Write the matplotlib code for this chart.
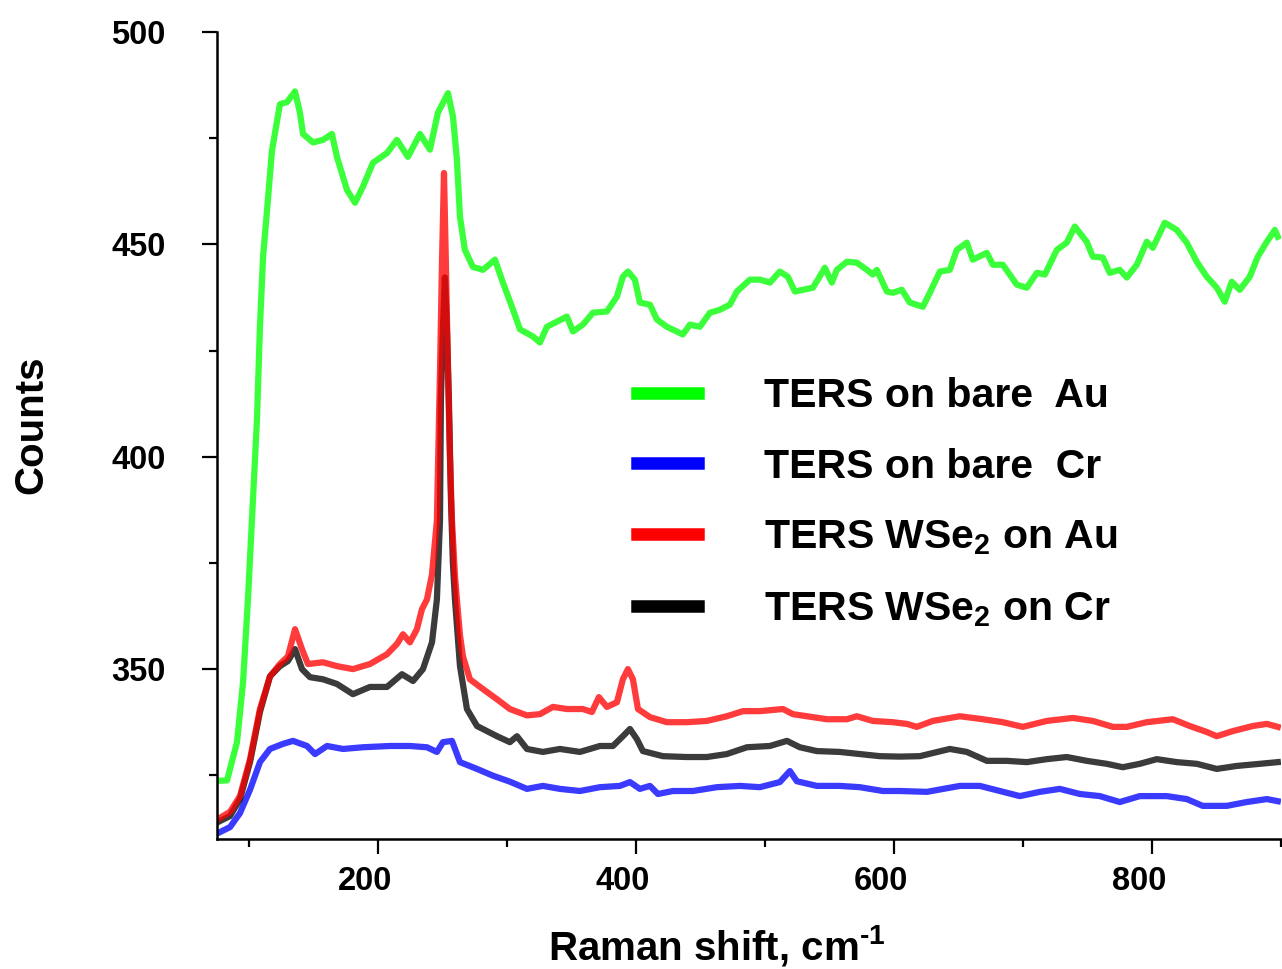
import matplotlib
matplotlib.use('Agg')
import matplotlib.pyplot as plt
import matplotlib.transforms as mtransforms
from matplotlib.ticker import MultipleLocator

plt.rcParams['font.family'] = ['Liberation Sans', 'DejaVu Sans']
plt.rcParams['font.weight'] = 'bold'
plt.rcParams['mathtext.fontset'] = 'custom'
plt.rcParams['mathtext.rm'] = 'Liberation Sans:bold'
plt.rcParams['mathtext.it'] = 'Liberation Sans:bold'
plt.rcParams['mathtext.bf'] = 'Liberation Sans:bold'
plt.rcParams['mathtext.default'] = 'rm'

# TERS on bare Au
au_x = [75.8, 82.8, 90.5, 95.2, 99.0, 102.9, 106.0, 108.3, 110.7, 113.8, 117.6, 123.8,
        129.3, 135.5, 139.3, 141.7, 149.4, 157.2, 164.1, 168.0, 175.8, 182.0, 188.2, 195.9,
        206.8, 214.5, 223.0, 232.4, 240.1, 246.3, 254.1, 258.0, 261.0, 263.4, 267.2, 273.4,
        281.2, 290.5, 296.7, 303.7, 309.9, 320.0, 325.4, 330.8, 338.6, 346.3, 351.0, 358.7,
        366.5, 377.3, 385.1, 389.7, 393.6, 399.0, 402.9, 410.7, 416.1, 423.8, 436.2, 441.7,
        449.4, 457.2, 464.9, 472.7, 478.1, 488.2, 495.9, 503.7, 511.4, 517.6, 523.1, 529.3,
        537.0, 540.9, 546.3, 551.7, 555.6, 563.4, 571.1, 578.9, 583.5, 586.6, 594.4, 599.0,
        606.0, 612.2, 622.3, 627.7, 635.5, 643.2, 648.6, 656.4, 661.0, 671.9, 676.6, 684.3,
        695.2, 702.9, 710.7, 716.9, 726.2, 733.9, 740.1, 749.4, 754.1, 761.8, 767.2, 775.0,
        780.4, 788.2, 795.9, 800.6, 809.9, 819.2, 826.9, 834.7, 842.4, 850.2, 856.4, 861.8,
        868.0, 875.8, 882.0, 889.0, 895.2, 897.5]
au_y = [323.7, 323.8, 332.8, 346.9, 366.4, 390.0, 408.8, 430.6, 447.0, 458.0, 472.0, 483.0,
        483.5, 486.0, 481.0, 476.0, 474.0, 474.6, 476.0, 470.6, 462.8, 459.8, 463.6, 469.2,
        471.5, 474.6, 470.6, 476.0, 472.3, 481.0, 485.6, 480.0, 470.0, 456.5, 448.7, 444.7,
        444.0, 446.4, 441.0, 435.3, 430.0, 428.3, 426.9, 430.6, 431.8, 433.0, 429.5, 431.1,
        433.9, 434.2, 437.7, 442.4, 443.6, 441.7, 436.3, 435.8, 432.3, 430.6, 428.8, 431.1,
        430.6, 433.9, 434.6, 435.8, 438.9, 441.7, 441.7, 441.0, 443.6, 442.4, 438.9, 439.3,
        439.8, 441.7, 444.5, 441.0, 444.0, 445.9, 445.7, 444.0, 442.9, 444.0, 438.9, 438.6,
        439.3, 436.3, 435.3, 438.6, 443.6, 444.0, 448.7, 450.4, 446.4, 448.0, 445.2, 445.2,
        440.5, 439.8, 443.3, 442.9, 448.7, 450.4, 454.2, 450.6, 447.1, 446.9, 443.3, 444.0,
        442.2, 445.2, 450.6, 449.2, 455.1, 453.4, 450.4, 445.9, 442.4, 439.8, 436.5, 441.2,
        439.3, 442.4, 447.1, 450.6, 453.4, 451.8]

# TERS on bare Cr
cr_x = [75.8, 85.1, 92.8, 100.6, 108.3, 116.1, 126.2, 133.9, 144.8, 151.0, 160.3, 172.7,
        188.2, 209.1, 224.6, 237.8, 245.5, 250.2, 257.2, 263.4, 276.6, 289.0, 302.1, 315.3,
        327.7, 340.9, 356.4, 371.9, 387.4, 395.2, 402.9, 410.7, 416.9, 428.5, 444.0, 462.6,
        480.4, 495.9, 511.4, 519.2, 524.6, 540.1, 557.9, 573.4, 591.3, 604.5, 625.4, 651.0,
        666.5, 682.0, 697.5, 713.0, 728.5, 744.0, 759.5, 775.0, 790.5, 811.4, 826.9, 839.3,
        857.9, 873.4, 889.0, 897.5]
cr_y = [311.4, 312.8, 316.1, 321.6, 328.1, 331.2, 332.4, 333.1, 331.9, 330.0, 331.9, 331.2,
        331.6, 331.9, 331.9, 331.6, 330.5, 332.8, 333.1, 328.1, 326.5, 324.9, 323.5, 321.8,
        322.5, 321.8, 321.3, 322.2, 322.5, 323.4, 321.8, 322.5, 320.6, 321.3, 321.3, 322.2,
        322.5, 322.2, 323.4, 326.0, 323.6, 322.5, 322.5, 322.2, 321.3, 321.3, 321.1, 322.5,
        322.5, 321.3, 320.1, 321.1, 321.8, 320.6, 320.1, 318.7, 320.1, 320.1, 319.4, 317.8,
        317.8, 318.7, 319.4, 318.9]

# TERS WSe2 on Au
wse2_au_x = [75.8, 85.1, 92.8, 100.6, 108.3, 116.1, 123.8, 130.0, 135.5, 140.9, 145.5, 157.2,
             168.0, 180.4, 193.6, 206.8, 214.5, 219.2, 224.6, 230.0, 233.9, 237.8, 241.7, 245.5,
             247.9, 249.4, 251.0, 252.5, 254.1, 255.6, 257.2, 259.5, 261.0, 263.4, 265.7, 271.1,
             281.2, 292.1, 302.1, 315.3, 325.4, 335.5, 346.3, 358.7, 365.7, 371.1, 377.3, 385.1,
             389.7, 393.6, 397.5, 401.4, 410.7, 423.8, 439.3, 454.8, 470.3, 482.8, 495.9, 513.8,
             521.5, 532.4, 547.9, 563.4, 571.1, 583.5, 599.0, 609.9, 617.6, 630.0, 651.0, 668.8,
             684.3, 699.8, 718.4, 738.6, 754.1, 769.6, 780.4, 795.9, 816.1, 829.3, 842.4, 850.2,
             862.6, 878.1, 889.0, 897.5]
wse2_au_y = [314.7, 316.4, 320.1, 328.8, 340.6, 348.3, 351.2, 353.0, 359.4, 354.7, 351.2, 351.6,
             350.7, 350.0, 351.2, 353.5, 355.9, 358.2, 356.3, 359.4, 364.1, 366.4, 372.3, 385.0,
             420.0, 445.0, 466.8, 445.0, 420.0, 400.0, 385.0, 372.0, 366.4, 358.0, 353.0, 347.6,
             345.3, 342.9, 340.6, 339.1, 339.4, 341.1, 340.6, 340.6, 339.9, 343.4, 341.1, 342.2,
             347.6, 350.0, 347.6, 340.6, 338.7, 337.5, 337.5, 337.8, 338.9, 340.1, 340.1, 340.6,
             339.4, 338.9, 338.2, 338.2, 338.9, 337.8, 337.5, 337.1, 336.4, 337.8, 338.9, 338.2,
             337.5, 336.4, 337.8, 338.5, 337.8, 336.4, 336.4, 337.5, 338.2, 336.6, 335.2, 334.2,
             335.4, 336.6, 337.1, 336.4]

# TERS WSe2 on Cr
wse2_cr_x = [75.8, 85.1, 92.8, 100.6, 108.3, 116.1, 123.8, 130.0, 135.5, 140.9, 147.1, 157.2,
             168.0, 180.4, 193.6, 206.8, 218.4, 227.0, 234.7, 241.7, 245.5, 247.9, 248.6, 250.2,
             251.7, 253.3, 254.8, 256.4, 257.9, 259.5, 263.4, 268.8, 276.6, 292.1, 302.1, 307.6,
             315.3, 327.7, 340.9, 356.4, 371.9, 382.0, 389.7, 395.2, 400.6, 405.2, 420.7, 439.3,
             454.8, 470.3, 485.9, 503.7, 516.9, 526.9, 540.1, 557.9, 573.4, 589.0, 604.5, 620.0,
             643.2, 656.4, 671.9, 687.4, 702.9, 718.4, 733.9, 749.4, 764.9, 777.3, 790.5, 803.7,
             819.2, 834.7, 850.2, 865.7, 883.5, 897.5]
wse2_cr_y = [314.0, 315.4, 319.4, 328.1, 339.9, 348.3, 350.7, 351.9, 354.7, 350.0, 348.1, 347.6,
             346.5, 344.1, 345.8, 345.8, 348.8, 347.2, 350.0, 356.3, 366.4, 385.0, 413.5, 430.0,
             442.2, 430.0, 413.5, 390.0, 375.0, 366.4, 350.7, 340.6, 336.6, 334.2, 332.8, 334.2,
             331.2, 330.5, 331.2, 330.5, 331.9, 331.9, 334.2, 335.9, 333.5, 330.7, 329.5, 329.3,
             329.3, 330.0, 331.6, 331.9, 333.1, 331.6, 330.7, 330.5, 330.0, 329.5, 329.4, 329.5,
             331.2, 330.5, 328.4, 328.4, 328.1, 328.8, 329.3, 328.4, 327.7, 326.9, 327.7, 328.8,
             328.1, 327.7, 326.5, 327.2, 327.7, 328.1]

labels = ['TERS on bare  Au', 'TERS on bare  Cr',
          'TERS WSe$_2$ on Au', 'TERS WSe$_2$ on Cr']

fig = plt.figure(figsize=(12.82, 9.69), dpi=100)
ax = fig.add_axes([217 / 1282, 130 / 969, 1064 / 1282, 807 / 969])

lw = 4.5
ln_au, = ax.plot(au_x, au_y, color='#00ff00', alpha=0.77, lw=lw)
ln_cr, = ax.plot(cr_x, cr_y, color='#0000ff', alpha=0.77, lw=lw)
ln_wcr, = ax.plot(wse2_cr_x, wse2_cr_y, color='#000000', alpha=0.77, lw=lw)
ln_wau, = ax.plot(wse2_au_x, wse2_au_y, color='#ff0000', alpha=0.77, lw=lw)

ax.set_xlim(75, 900)
ax.set_ylim(310, 500)

for s in ['top', 'right']:
    ax.spines[s].set_visible(False)
for s in ['left', 'bottom']:
    ax.spines[s].set_linewidth(1.8)

ax.xaxis.set_major_locator(MultipleLocator(200))
ax.xaxis.set_minor_locator(MultipleLocator(100))
ax.yaxis.set_major_locator(MultipleLocator(50))
ax.yaxis.set_minor_locator(MultipleLocator(25))
ax.tick_params(which='major', length=10.8, width=1.6, direction='out', labelsize=23.5)
ax.tick_params(which='minor', length=5.8, width=1.6, direction='out')
ax.tick_params(axis='y', which='major', pad=26)
ax.tick_params(axis='x', which='major', pad=9)

# x tick labels sit a little left of their ticks
shift = mtransforms.ScaledTranslation(-13 / 100, 0, fig.dpi_scale_trans)
for lab in ax.get_xticklabels():
    lab.set_transform(lab.get_transform() + shift)

fig.text(717 / 1282, 1 - 960 / 969, r'Raman shift, cm$^{\text{-1}}$', fontsize=29,
         ha='center', va='baseline')
fig.text(31 / 1282, 1 - 425 / 969, 'Counts', fontsize=29, rotation=90,
         ha='center', va='center')

leg = ax.legend([ln_au, ln_cr, ln_wau, ln_wcr], labels, loc='upper left',
                bbox_to_anchor=(637 / 1282, 1 - 377 / 969), bbox_transform=fig.transFigure,
                frameon=False, fontsize=29.5, handlelength=1.48, handletextpad=1.63,
                labelspacing=0.8, borderpad=0, borderaxespad=0)
for h, c in zip(leg.legend_handles, ['#00ff00', '#0000ff', '#ff0000', '#000000']):
    h.set_color(c)
    h.set_alpha(1)
    h.set_linewidth(9)

fig.savefig('out.png', dpi=100)
